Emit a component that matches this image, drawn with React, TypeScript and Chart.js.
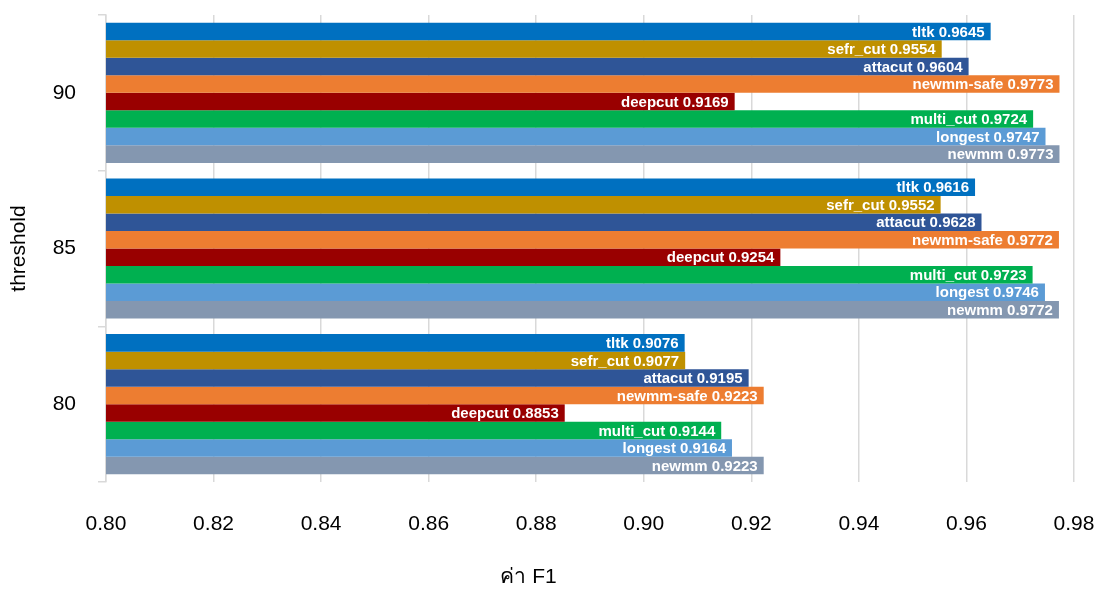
import React, { useEffect, useRef } from "react";
import { Chart, registerables } from "chart.js";

Chart.register(...registerables);

// Thresholds shown on the category axis (top to bottom)
const thresholds = ["90", "85", "80"];

// Tokenizer names, in the order they are stacked inside each threshold group
const tokenizers = [
  "tltk",
  "sefr_cut",
  "attacut",
  "newmm-safe",
  "deepcut",
  "multi_cut",
  "longest",
  "newmm",
];

// F1 per tokenizer, one value per threshold (90, 85, 80)
const tltkF1 = [0.9645, 0.9616, 0.9076];
const sefrCutF1 = [0.9554, 0.9552, 0.9077];
const attacutF1 = [0.9604, 0.9628, 0.9195];
const newmmSafeF1 = [0.9773, 0.9772, 0.9223];
const deepcutF1 = [0.9169, 0.9254, 0.8853];
const multiCutF1 = [0.9724, 0.9723, 0.9144];
const longestF1 = [0.9747, 0.9746, 0.9164];
const newmmF1 = [0.9773, 0.9772, 0.9223];

const seriesValues = [
  tltkF1,
  sefrCutF1,
  attacutF1,
  newmmSafeF1,
  deepcutF1,
  multiCutF1,
  longestF1,
  newmmF1,
];

const seriesColors = [
  "#0070C0",
  "#BF9000",
  "#2F5597",
  "#ED7D31",
  "#990000",
  "#00B050",
  "#5B9BD5",
  "#8497B0",
];

// x-axis range and tick step
const xMin = 0.8;
const xMax = 0.98;
const xStep = 0.02;

const FONT = "'Liberation Sans', Arial, 'Noto Sans', sans-serif";
const xTitle = "ค่า F1";
const yTitle = "threshold";

// Writes "name value" right-aligned inside the end of every bar
const barLabels = {
  id: "barLabels",
  afterDatasetsDraw(chart: any) {
    const ctx = chart.ctx;
    ctx.save();
    ctx.font = `bold 15px ${FONT}`;
    ctx.fillStyle = "#ffffff";
    ctx.textAlign = "right";
    ctx.textBaseline = "middle";
    chart.data.datasets.forEach((ds: any, di: number) => {
      const meta = chart.getDatasetMeta(di);
      meta.data.forEach((bar: any, i: number) => {
        const v = ds.data[i] as number;
        ctx.fillText(`${ds.label} ${v.toFixed(4)}`, bar.x - 6, bar.y + 1);
      });
    });
    ctx.restore();
  },
};

// Horizontal axis title, drawn under the tick labels
const xAxisTitle = {
  id: "xAxisTitle",
  afterDraw(chart: any) {
    const ctx = chart.ctx;
    ctx.save();
    ctx.font = `21px ${FONT}`;
    ctx.fillStyle = "#000000";
    ctx.textAlign = "center";
    ctx.textBaseline = "middle";
    ctx.fillText(xTitle, chart.width / 2 - 20, chart.height - 12);
    ctx.restore();
  },
};

export default function App() {
  const canvasRef = useRef<HTMLCanvasElement | null>(null);

  useEffect(() => {
    document.body.style.margin = "0";
    const canvas = canvasRef.current;
    if (!canvas) return;

    const chart = new Chart(canvas, {
      type: "bar",
      data: {
        labels: thresholds,
        datasets: tokenizers.map((name, i) => ({
          label: name,
          data: seriesValues[i],
          backgroundColor: seriesColors[i],
          borderWidth: 0,
          categoryPercentage: 0.9,
          barPercentage: 1.0,
        })),
      },
      options: {
        indexAxis: "y",
        animation: false,
        responsive: false,
        maintainAspectRatio: false,
        layout: { padding: { top: 15, right: 23, left: 0, bottom: 0 } },
        plugins: {
          legend: { display: false },
          tooltip: { enabled: false },
        },
        scales: {
          x: {
            type: "linear",
            min: xMin,
            max: xMax,
            afterFit(scale: any) {
              scale.height = 107;
              scale.paddingLeft = 0;
              scale.paddingRight = 0;
            },
            ticks: {
              stepSize: xStep,
              color: "#000000",
              font: { family: FONT, size: 21 },
              padding: 30,
              callback: (v: any) => Number(v).toFixed(2),
            },
            grid: {
              color: "#d9d9d9",
              lineWidth: 1.5,
              drawTicks: false,
            },
            border: { display: false },
          },
          y: {
            type: "category",
            afterFit(scale: any) {
              scale.width = 106;
              scale.paddingTop = 0;
              scale.paddingBottom = 0;
            },
            ticks: {
              color: "#000000",
              font: { family: FONT, size: 21 },
              padding: 22,
            },
            grid: {
              offset: true,
              drawOnChartArea: false,
              color: "#d9d9d9",
              lineWidth: 1.5,
              tickLength: 8,
            },
            border: { display: true, color: "#d9d9d9", width: 1.5 },
            title: {
              display: true,
              text: yTitle,
              color: "#000000",
              font: { family: FONT, size: 21 },
              padding: { top: 7, bottom: 0 },
            },
          },
        },
      },
      plugins: [barLabels, xAxisTitle],
    });

    return () => chart.destroy();
  }, []);

  return (
    <div style={{ width: 1097, height: 589 }}>
      <canvas ref={canvasRef} width={1097} height={589} style={{ display: "block" }} />
    </div>
  );
}
